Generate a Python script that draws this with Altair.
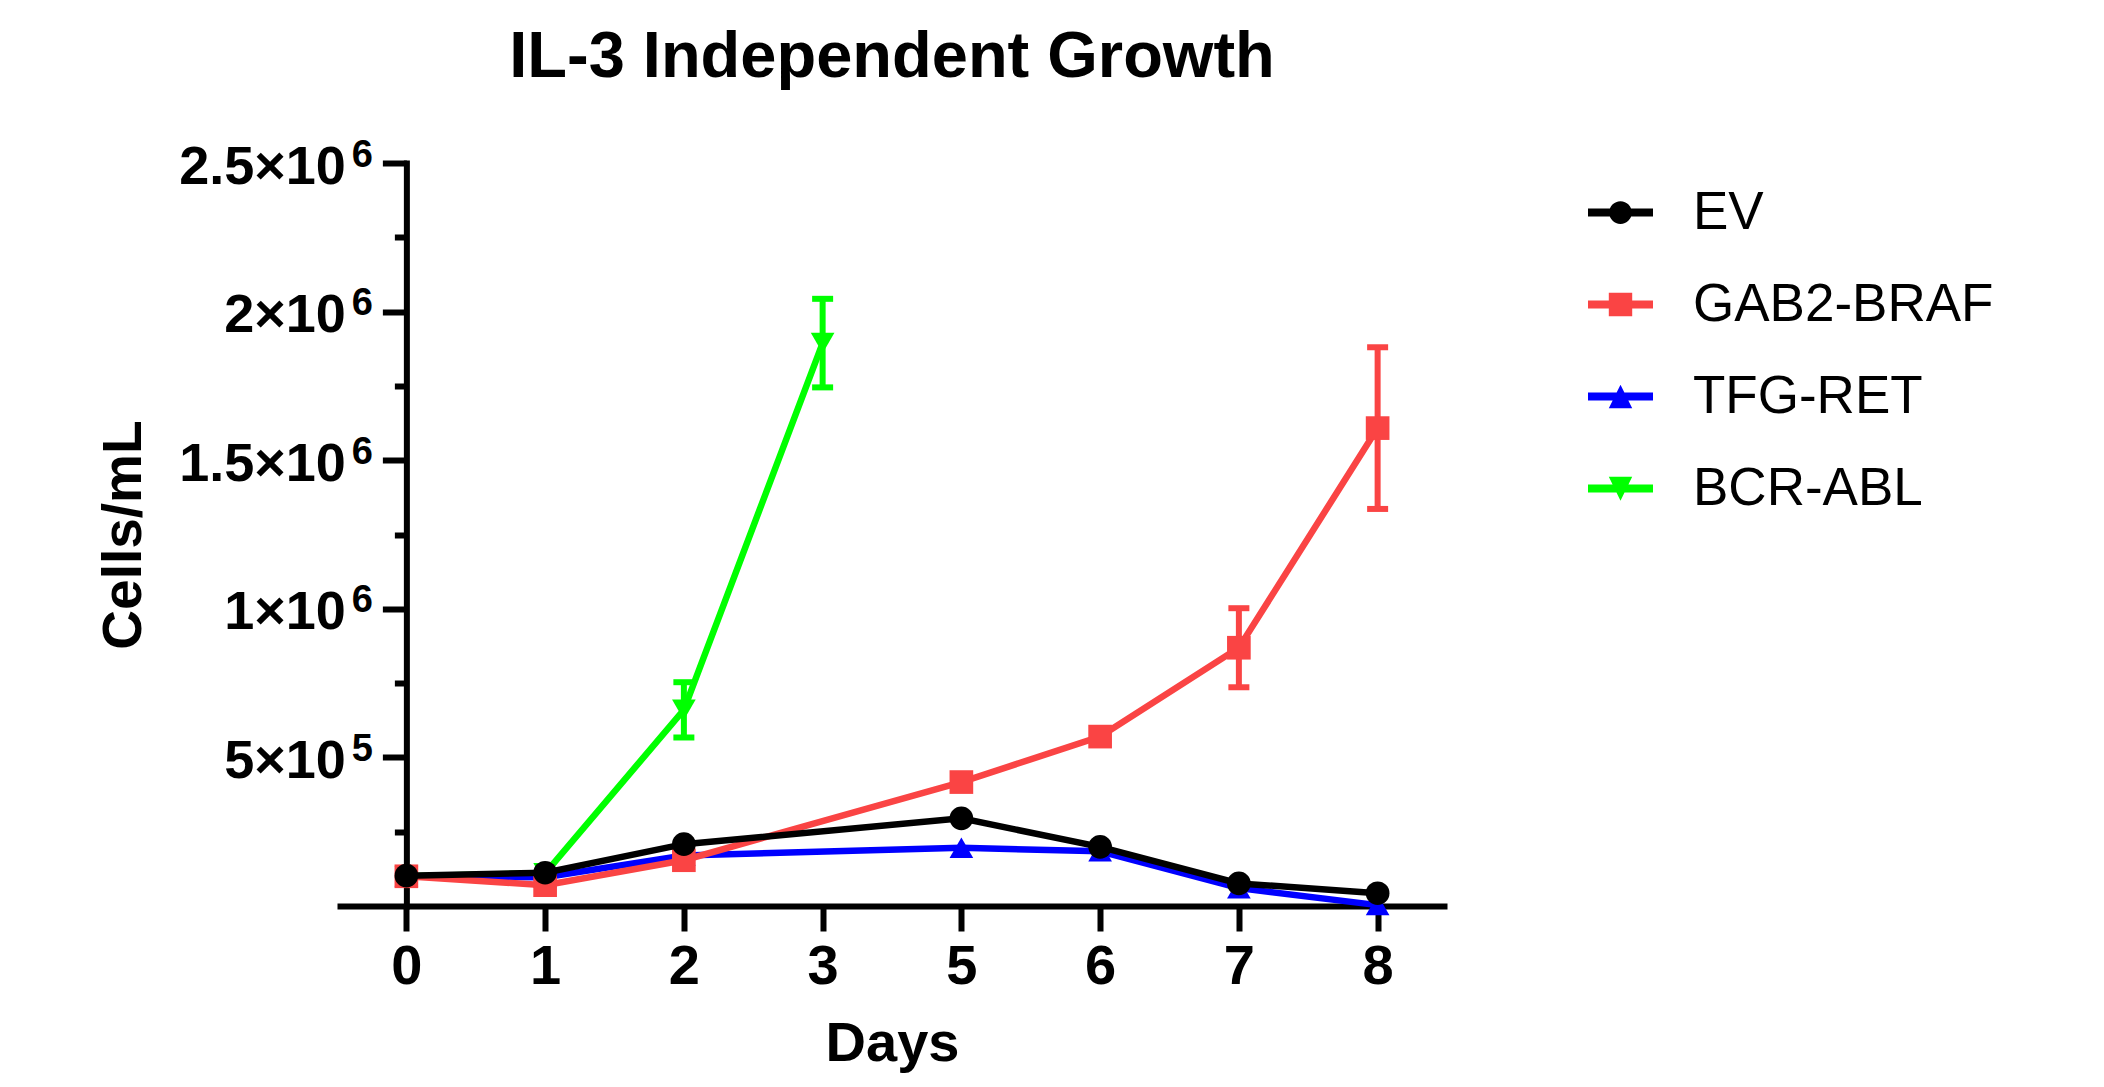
import altair as alt
import pandas as pd

# ---------------- data ----------------
days = ["0", "1", "2", "3", "5", "6", "7", "8"]
series_names = ["EV", "GAB2-BRAF", "TFG-RET", "BCR-ABL"]
series_colors = ["#000000", "#FA4444", "#0000FF", "#00FF00"]
marker_shapes = ["circle", "square", "triangle-up", "triangle-down"]

ev_days = ["0", "1", "2", "5", "6", "7", "8"]
ev_mean = [102000, 112000, 208000, 295000, 199000, 76000, 43000]
ev_sd = [0, 0, 0, 0, 0, 0, 0]

gab2_days = ["0", "1", "2", "5", "6", "7", "8"]
gab2_mean = [100000, 70000, 154000, 417000, 570000, 869000, 1608000]
gab2_sd = [0, 0, 0, 0, 0, 133000, 272000]

tfg_days = ["0", "1", "2", "5", "6", "7", "8"]
tfg_mean = [100000, 97000, 170000, 196000, 184000, 60000, 3000]
tfg_sd = [0, 0, 0, 0, 0, 0, 0]

bcr_days = ["0", "1", "2", "3"]
bcr_mean = [100000, 110000, 660000, 1894000]
bcr_sd = [0, 0, 93000, 149000]

y_tick_values = [500000, 1000000, 1500000, 2000000, 2500000]
y_tick_mantissa = ["5×10", "1×10", "1.5×10", "2×10", "2.5×10"]
y_tick_exponent = ["5", "6", "6", "6", "6"]
y_minor_values = [250000, 750000, 1250000, 1750000, 2250000]

# legend glyphs: line segment + marker (custom symbol paths)
legend_paths = [
    "M-1,-0.12H1V0.12H-1Z M0,-0.35A0.35,0.35 0 1,1 0,0.35A0.35,0.35 0 1,1 0,-0.35Z",
    "M-1,-0.12H1V0.12H-1Z M-0.36,-0.36H0.36V0.36H-0.36Z",
    "M-1,-0.12H1V0.12H-1Z M0,-0.36L0.36,0.36L-0.36,0.36Z",
    "M-1,-0.12H1V0.12H-1Z M-0.36,-0.36L0.36,-0.36L0,0.38Z",
]

FONT = "Liberation Sans"

all_days = [ev_days, gab2_days, tfg_days, bcr_days]
all_mean = [ev_mean, gab2_mean, tfg_mean, bcr_mean]
all_sd = [ev_sd, gab2_sd, tfg_sd, bcr_sd]

rows, caps = [], []
for name, dd, mm, ss in zip(series_names, all_days, all_mean, all_sd):
    for d, m, s in zip(dd, mm, ss):
        rows.append({"series": name, "day": d, "mean": m, "lo": m - s, "hi": m + s, "sd": s})
        if s > 0:
            caps.append({"series": name, "day": d, "val": m - s})
            caps.append({"series": name, "day": d, "val": m + s})
df = pd.DataFrame(rows)
caps_df = pd.DataFrame(caps)


def label_expr(values, labels):
    e = ""
    for v, lab in zip(values, labels):
        e += f"datum.value == {v} ? '{lab}' : "
    return e + "''"


# ---------------- scales / axes ----------------
W, H = 1110, 743
x_axis = alt.Axis(
    title="Days", labelAngle=0, labelFont=FONT, labelFontSize=56, labelFontWeight="bold",
    labelColor="black", labelPadding=8, tickSize=25, tickWidth=6, tickColor="black",
    domainColor="black", domainWidth=6, grid=False, titleFont=FONT, titleFontSize=56,
    titleFontWeight="bold", titleColor="black", titlePadding=22,
)
x_enc = alt.X("day:O", sort=days,
              scale=alt.Scale(type="point", domain=days, padding=0.5), axis=x_axis)
y_scale = alt.Scale(domain=[0, 2500000], nice=False, zero=True)

y_axis_main = alt.Axis(
    orient="left", offset=-W / 16, values=y_tick_values,
    labelExpr=label_expr(y_tick_values, y_tick_mantissa),
    labelFont=FONT, labelFontSize=54, labelFontWeight="bold", labelColor="black",
    labelPadding=37, labelOffset=4, labelLimit=500, tickSize=24, tickWidth=6, tickColor="black",
    domainColor="black", domainWidth=6, domainCap="square", grid=False,
    title="Cells/mL", titleFont=FONT, titleFontSize=55, titleFontWeight="bold",
    titleColor="black", titlePadding=54,
)
y_axis_exp = alt.Axis(
    orient="left", offset=-W / 16, values=y_tick_values,
    labelExpr=label_expr(y_tick_values, y_tick_exponent),
    labelFont=FONT, labelFontSize=38, labelFontWeight="bold", labelColor="black",
    labelPadding=34, labelOffset=-8, ticks=False, domain=False, grid=False, title=None,
)
y_axis_minor = alt.Axis(
    orient="left", offset=-W / 16, values=y_minor_values, labels=False,
    tickSize=12, tickWidth=6, tickColor="black", domain=False, grid=False, title=None,
)

legend = alt.Legend(
    title=None, orient="none", legendX=1251, legendY=17, symbolSize=4225,
    symbolStrokeWidth=0, labelFont=FONT, labelFontSize=53, labelFontWeight="normal",
    labelColor="black", labelOffset=40, rowPadding=32, labelLimit=0, padding=0,
)

# ---------------- layers ----------------
layers = []
# invisible layer that carries the legend and the main y axis
layers.append(
    alt.Chart(df).mark_point(filled=True, size=0, opacity=1).encode(
        x=x_enc,
        y=alt.Y("mean:Q", scale=y_scale, axis=y_axis_main),
        color=alt.Color("series:N", scale=alt.Scale(domain=series_names, range=series_colors), legend=legend),
        shape=alt.Shape("series:N", scale=alt.Scale(domain=series_names, range=legend_paths), legend=legend),
    )
)
# invisible layers for exponent labels and minor y ticks
layers.append(
    alt.Chart(df).mark_point(size=0, opacity=0).encode(
        x=x_enc, y=alt.Y("mean:Q", scale=y_scale, axis=y_axis_exp)
    )
)
layers.append(
    alt.Chart(df).mark_point(size=0, opacity=0).encode(
        x=x_enc, y=alt.Y("mean:Q", scale=y_scale, axis=y_axis_minor)
    )
)

for i in reversed(range(len(series_names))):
    name, col, shp = series_names[i], series_colors[i], marker_shapes[i]
    sub = df[df["series"] == name]
    err = sub[sub["sd"] > 0]
    cap = caps_df[caps_df["series"] == name] if len(caps_df) else caps_df
    if len(err):
        layers.append(
            alt.Chart(err).mark_rule(color=col, strokeWidth=6).encode(
                x=x_enc, y=alt.Y("lo:Q", scale=y_scale, axis=None), y2="hi:Q"
            )
        )
        layers.append(
            alt.Chart(cap).mark_tick(color=col, orient="horizontal", thickness=6, size=21, opacity=1).encode(
                x=x_enc, y=alt.Y("val:Q", scale=y_scale, axis=None)
            )
        )
    layers.append(
        alt.Chart(sub).mark_line(color=col, strokeWidth=6.5).encode(
            x=x_enc, y=alt.Y("mean:Q", scale=y_scale, axis=None)
        )
    )
    layers.append(
        alt.Chart(sub).mark_point(shape=shp, filled=True, size=560, color=col, opacity=1).encode(
            x=x_enc, y=alt.Y("mean:Q", scale=y_scale, axis=None)
        )
    )

chart = (
    alt.layer(*layers)
    .resolve_axis(y="independent")
    .properties(
        width=W, height=H,
        title=alt.TitleParams(
            "IL-3 Independent Growth", font=FONT, fontSize=65, fontWeight="bold",
            color="black", anchor="middle", frame="group", offset=45,
        ),
        padding={"left": 329, "top": 155, "right": 640, "bottom": 170},
        autosize=alt.AutoSizeParams(type="none"),
    )
    .configure_view(stroke=None)
)

chart.save("out.html", embed_options={"renderer": "svg", "actions": False})
